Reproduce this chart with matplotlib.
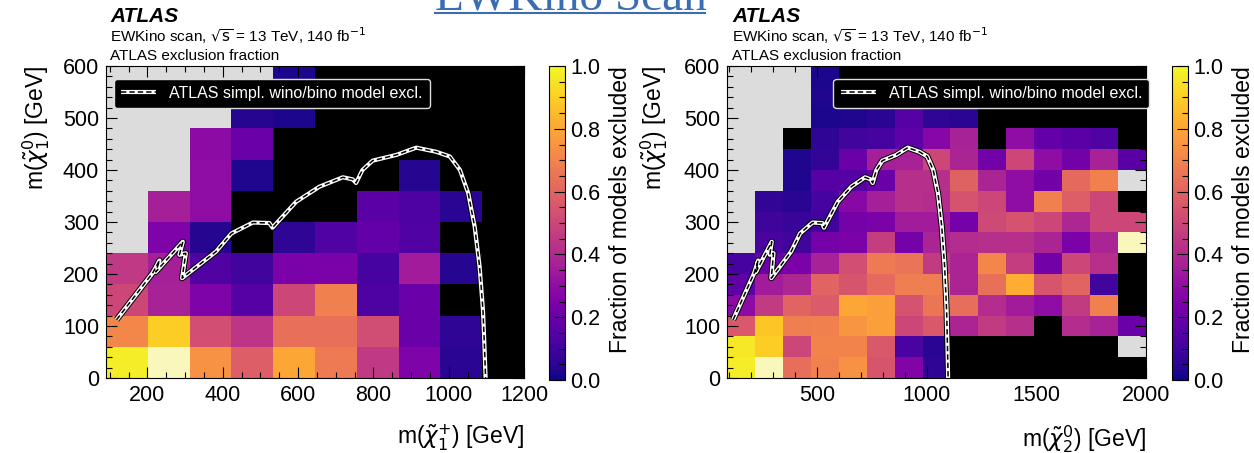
#!/usr/bin/env python3
"""
Recreate the EWKino scan exclusion-fraction maps (two panels) with matplotlib.
Saves out.png (1254x453).
"""
import numpy as np
import matplotlib.pyplot as plt
from matplotlib.colors import ListedColormap, Normalize
from matplotlib.cm import ScalarMappable
from matplotlib.ticker import MultipleLocator
from matplotlib import patheffects as pe

plt.rcParams['font.family'] = ['Liberation Sans', 'DejaVu Sans']
plt.rcParams['mathtext.fontset'] = 'dejavusans'

nan = np.nan

# bin edges (GeV)
left_x_edges = np.linspace(90, 1200, 11)    # m(chi1+)
left_y_edges = np.linspace(0, 600, 11)      # m(chi1^0)
right_x_edges = np.linspace(90, 2000, 16)   # m(chi2^0)
right_y_edges = np.linspace(0, 600, 16)     # m(chi1^0)

# fraction of models excluded, rows bottom -> top; nan = no models
left_frac = [
    [0.97, 1.00, 0.74, 0.58, 0.80, 0.67, 0.45, 0.25, 0.05, 0.00],
    [0.71, 0.90, 0.53, 0.44, 0.64, 0.64, 0.52, 0.20, 0.06, 0.00],
    [0.50, 0.37, 0.25, 0.15, 0.50, 0.69, 0.13, 0.20, 0.00, 0.00],
    [0.45, 0.36, 0.14, 0.10, 0.24, 0.24, 0.11, 0.35, 0.04, 0.00],
    [nan, 0.25, 0.04, 0.00, 0.06, 0.14, 0.18, 0.14, 0.00, 0.00],
    [nan, 0.36, 0.30, 0.00, 0.00, 0.00, 0.16, 0.13, 0.05, 0.00],
    [nan, nan, 0.30, 0.03, 0.00, 0.00, 0.00, 0.04, 0.00, 0.00],
    [nan, nan, 0.29, 0.20, 0.00, 0.00, 0.00, 0.00, 0.00, 0.00],
    [nan, nan, nan, 0.04, 0.02, 0.00, 0.00, 0.00, 0.00, 0.00],
    [nan, nan, nan, nan, 0.02, 0.00, 0.00, 0.00, 0.00, 0.00],
]

right_frac = [
    [0.97, 1.00, 0.63, 0.69, 0.74, 0.55, 0.26, 0.06, 0.00, 0.00, 0.00, 0.00, 0.00, 0.00, 0.00],
    [0.96, 0.90, 0.50, 0.70, 0.70, 0.56, 0.12, 0.05, 0.00, 0.00, 0.00, 0.00, 0.00, 0.00, nan],
    [0.56, 0.88, 0.68, 0.69, 0.75, 0.78, 0.50, 0.56, 0.38, 0.46, 0.42, 0.00, 0.41, 0.37, 0.20],
    [0.29, 0.46, 0.60, 0.57, 0.80, 0.78, 0.54, 0.66, 0.63, 0.41, 0.35, 0.30, 0.46, 0.69, 0.00],
    [0.17, 0.35, 0.39, 0.60, 0.55, 0.62, 0.68, 0.68, 0.38, 0.64, 0.82, 0.55, 0.60, 0.10, 0.00],
    [0.11, 0.20, 0.24, 0.37, 0.53, 0.67, 0.65, 0.46, 0.38, 0.71, 0.47, 0.22, 0.50, 0.42, 0.00],
    [nan, 0.12, 0.10, 0.23, 0.24, 0.47, 0.23, 0.38, 0.41, 0.42, 0.42, 0.38, 0.24, 0.38, 1.00],
    [nan, 0.09, 0.08, 0.10, 0.23, 0.24, 0.35, 0.35, 0.23, 0.51, 0.54, 0.50, 0.39, 0.50, 0.50],
    [nan, 0.07, 0.05, 0.11, 0.28, 0.36, 0.42, 0.41, 0.54, 0.50, 0.30, 0.69, 0.58, 0.50, 0.00],
    [nan, nan, 0.03, 0.15, 0.15, 0.20, 0.42, 0.42, 0.59, 0.38, 0.30, 0.22, 0.62, 0.69, nan],
    [nan, nan, 0.03, 0.07, 0.20, 0.36, 0.37, 0.50, 0.38, 0.22, 0.50, 0.30, 0.22, 0.37, 0.16],
    [nan, nan, 0.00, 0.06, 0.10, 0.11, 0.17, 0.27, 0.37, 0.00, 0.30, 0.18, 0.16, 0.14, 0.00],
    [nan, nan, nan, 0.02, 0.03, 0.05, 0.15, 0.06, 0.05, 0.00, 0.00, 0.00, 0.00, 0.00, 0.00],
    [nan, nan, nan, 0.03, 0.03, 0.05, 0.10, 0.04, 0.00, 0.00, 0.00, 0.00, 0.00, 0.00, 0.00],
    [nan, nan, nan, 0.02, 0.00, 0.00, 0.00, 0.00, 0.00, 0.00, 0.00, 0.00, 0.00, 0.00, 0.00],
]

# ATLAS simplified wino/bino exclusion contour (same curve on both panels)
contour_x = [118, 214, 232, 222, 294, 285, 302, 292, 382, 423, 480, 524, 532,
             595, 657, 719, 745, 754, 771, 798, 861, 914, 967, 1003, 1030,
             1052, 1069, 1082, 1091, 1095, 1098]
contour_y = [112, 202, 226, 204, 262, 237, 240, 192, 243, 278, 299, 298, 289,
             339, 368, 386, 382, 375, 400, 418, 429, 443, 435, 426, 400,
             355, 291, 215, 131, 61, 0]

header_lines = ['EWKino scan, $\\sqrt{\\mathrm{s}}$ = 13 TeV, 140 fb$^{-1}$',
                'ATLAS exclusion fraction']
legend_label = 'ATLAS simpl. wino/bino model excl.'
cbar_label = 'Fraction of models excluded'

# plasma, with exact 0 shown black and full exclusion shown pale yellow
colors = plt.get_cmap('plasma', 256)(np.linspace(0, 1, 256))
colors[0] = (0, 0, 0, 1)
colors[-1] = (0.98, 0.97, 0.74, 1)
cmap = ListedColormap(colors)
cmap.set_bad('#dcdcdc')
norm = Normalize(0, 1)

fig = plt.figure(figsize=(12.54, 4.53), dpi=100)

W, H = 1254.0, 453.0
TICK_FS = 15.5
LABEL_FS = 16.5


def px_axes(x0, x1, y0, y1):
    return fig.add_axes([x0 / W, 1 - y1 / H, (x1 - x0) / W, (y1 - y0) / H])


def draw_panel(ax, cax, xe, ye, frac, xlabel, xmajor, xminor, xtext, leg_x):
    ax.pcolormesh(xe, ye, np.ma.masked_invalid(np.array(frac)), cmap=cmap, norm=norm,
                  edgecolors='none')
    outline = [pe.Stroke(linewidth=4.4, foreground='black'), pe.Normal()]
    l1, = ax.plot(contour_x, contour_y, color='white', lw=3.0, path_effects=outline,
                  solid_capstyle='butt')
    l2, = ax.plot(contour_x, contour_y, color='black', lw=1.1, dashes=(3.5, 2.0))
    ax.set_xlim(xe[0], xe[-1])
    ax.set_ylim(0, 600)
    ax.xaxis.set_major_locator(MultipleLocator(xmajor))
    ax.xaxis.set_minor_locator(MultipleLocator(xminor))
    ax.yaxis.set_major_locator(MultipleLocator(100))
    ax.yaxis.set_minor_locator(MultipleLocator(20))
    ax.tick_params(which='both', direction='in', top=True, right=True, labelsize=TICK_FS)
    ax.tick_params(which='major', length=8, width=0.8)
    ax.tick_params(which='minor', length=4, width=0.8)
    ax.tick_params(axis='x', pad=5)
    ax.tick_params(axis='y', pad=5)
    ax.set_xlabel(xlabel, fontsize=LABEL_FS, loc='right')
    ax.xaxis.set_label_coords(1.0, -0.145)
    ax.set_ylabel('m($\\tilde{\\chi}^{0}_{1}$) [GeV]', fontsize=LABEL_FS, loc='top')
    leg = ax.legend([(l1, l2)], [legend_label], loc='upper left', fontsize=11.5,
                    facecolor='black', edgecolor='#dddddd', framealpha=1,
                    labelcolor='white', handlelength=2.2, borderpad=0.45,
                    bbox_to_anchor=(leg_x, 0.985))
    leg.get_frame().set_linewidth(1.0)

    # ATLAS label block above the axes
    fig.text(xtext / W, 1 - 22 / H, 'ATLAS', fontsize=15, fontweight='bold',
             fontstyle='italic')
    fig.text(xtext / W, 1 - 42 / H, header_lines[0], fontsize=11)
    fig.text(xtext / W, 1 - 60 / H, header_lines[1], fontsize=11)

    sm = ScalarMappable(norm=norm, cmap='plasma')
    cb = fig.colorbar(sm, cax=cax)
    cb.set_ticks([0.0, 0.2, 0.4, 0.6, 0.8, 1.0])
    cb.ax.yaxis.set_minor_locator(MultipleLocator(0.05))
    cb.ax.tick_params(which='both', direction='in', labelsize=TICK_FS, width=0.8, pad=4)
    cb.ax.tick_params(which='major', length=8)
    cb.ax.tick_params(which='minor', length=4)
    cb.outline.set_linewidth(0.8)
    cb.set_label(cbar_label, fontsize=LABEL_FS, loc='top', labelpad=6)
    return ax


ax1 = px_axes(106, 524, 66, 378)
cax1 = px_axes(549, 565, 66, 380)
draw_panel(ax1, cax1, left_x_edges, left_y_edges, left_frac,
           'm($\\tilde{\\chi}^{+}_{1}$) [GeV]', 200, 50, 110, 0.0)
ax1.yaxis.set_label_coords(-0.13, 1.0)

ax2 = px_axes(727, 1146, 66, 378)
cax2 = px_axes(1172, 1188, 66, 380)
draw_panel(ax2, cax2, right_x_edges, right_y_edges, right_frac,
           'm($\\tilde{\\chi}^{0}_{2}$) [GeV]', 500, 100, 732, 0.235)
ax2.yaxis.set_label_coords(-0.135, 1.0)

# slide-title remnant at the very top (cut off by the page edge in the original)
fig.text(435 / W, 1 - 9 / H, 'EWKino Scan', fontsize=34, family='Liberation Serif',
         color='#3b6db5', va='baseline', ha='left')
fig.add_artist(plt.Line2D([435 / W, 705 / W], [1 - 13 / H, 1 - 13 / H],
                          color='#3b6db5', lw=1.5))

fig.savefig('out.png', dpi=100)
